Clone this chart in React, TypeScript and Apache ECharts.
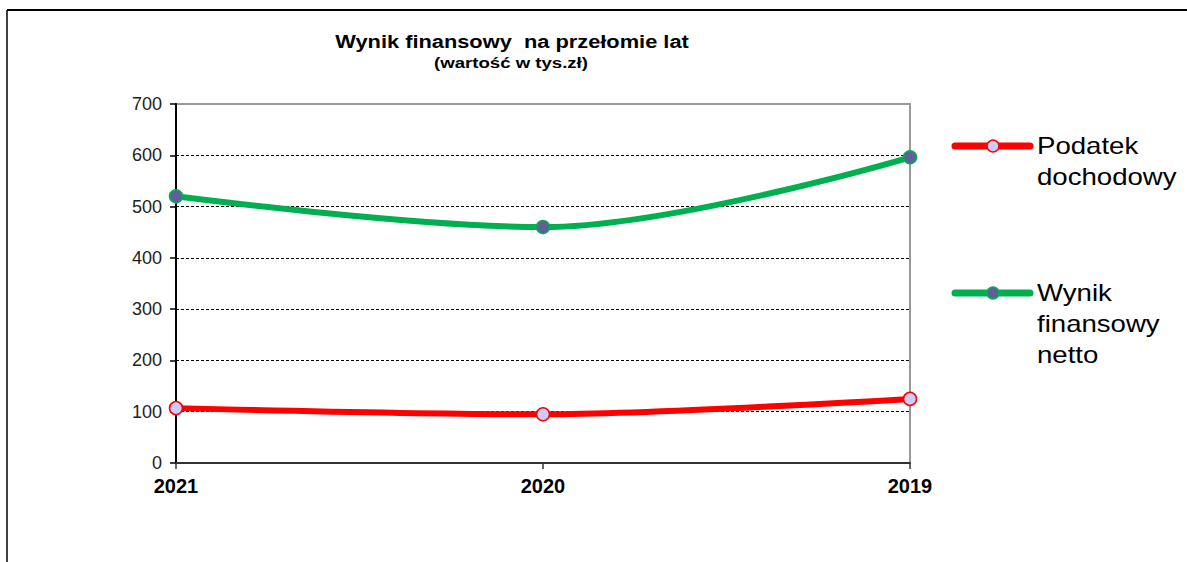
import React, { useEffect, useRef } from "react";
import * as echarts from "echarts";

const categories = ["2021", "2020", "2019"];
const seriesNames = ["Podatek\ndochodowy", "Wynik\nfinansowy\nnetto"];
const podatek = [107, 95, 125];
const wynik = [520, 460, 596];
const yTicks = { min: 0, max: 700, interval: 100 };
const titleText = "Wynik finansowy  na przełomie lat";
const subtitleText = "(wartość w tys.zł)";

const FONT = "'Liberation Sans', Arial, sans-serif";

export default function App() {
  const ref = useRef<HTMLDivElement>(null);
  useEffect(() => {
    document.body.style.margin = "0";
    const chart = echarts.init(ref.current!, null, { renderer: "svg" });
    const colors = ["#ff0000", "#00b050"];
    const fills = ["#ccccff", "#5f5f99"];
    const legendY = [146, 293];
    const legendGraphics: any[] = [];
    seriesNames.forEach((n, i) => {
      legendGraphics.push(
        {
          type: "line",
          shape: { x1: 955, y1: legendY[i], x2: 1030, y2: legendY[i] },
          style: { stroke: colors[i], lineWidth: 7, lineCap: "round" },
        },
        {
          type: "circle",
          shape: { cx: 993, cy: legendY[i], r: 6 },
          style: { fill: fills[i], stroke: colors[i], lineWidth: 1.5 },
        },
        {
          type: "text",
          x: 1037,
          y: legendY[i] - 16,
          scaleX: 1.2,
          style: {
            text: n,
            font: `23px ${FONT}`,
            fill: "#000",
            lineHeight: 31,
            textVerticalAlign: "top",
          },
        }
      );
    });

    chart.setOption({
      animation: false,
      textStyle: { fontFamily: FONT },
      grid: { left: 176, right: 277, top: 104, bottom: 99, show: true, borderColor: "#999", borderWidth: 2 },
      xAxis: {
        type: "category",
        data: categories,
        boundaryGap: false,
        axisLine: { lineStyle: { color: "#333", width: 2 } },
        axisTick: { show: true, length: 6, lineStyle: { color: "#333", width: 1.5 } },
        axisLabel: { color: "#000", fontWeight: "bold", fontSize: 20, fontFamily: FONT, margin: 13 },
        splitLine: { show: false },
      },
      yAxis: {
        type: "value",
        min: yTicks.min,
        max: yTicks.max,
        interval: yTicks.interval,
        axisLine: { show: true, lineStyle: { color: "#000", width: 2 } },
        axisTick: { show: true, length: 6, lineStyle: { color: "#000", width: 1.5 } },
        axisLabel: { color: "#222", fontSize: 18, fontFamily: FONT, margin: 14 },
        splitLine: {
          show: true,
          lineStyle: {
            color: ["#000", "#000", "#000", "#000", "#000", "#000", "#000", "transparent"],
            type: [3, 2],
            width: 1,
          },
        },
      },
      series: [
        {
          name: seriesNames[0],
          type: "line",
          data: podatek,
          smooth: 0.3,
          lineStyle: { color: colors[0], width: 6 },
          itemStyle: { color: fills[0], borderColor: colors[0], borderWidth: 1.5 },
          symbol: "circle",
          symbolSize: 13,
          z: 3,
        },
        {
          name: seriesNames[1],
          type: "line",
          data: wynik,
          smooth: 0.35,
          lineStyle: { color: colors[1], width: 6 },
          itemStyle: { color: fills[1], borderColor: colors[1], borderWidth: 1.5 },
          symbol: "circle",
          symbolSize: 13,
          z: 3,
        },
      ],
      graphic: [
        { type: "line", shape: { x1: 7, y1: 10, x2: 1187, y2: 10 }, style: { stroke: "#000", lineWidth: 2 } },
        { type: "line", shape: { x1: 7, y1: 10, x2: 7, y2: 562 }, style: { stroke: "#000", lineWidth: 1.5 } },
        {
          type: "text",
          x: 512,
          y: 42,
          scaleX: 1.18,
          style: { text: titleText, font: `bold 18.5px ${FONT}`, fill: "#000", textAlign: "center", textVerticalAlign: "middle" },
        },
        {
          type: "text",
          x: 511,
          y: 63,
          scaleX: 1.2,
          style: { text: subtitleText, font: `bold 15.5px ${FONT}`, fill: "#000", textAlign: "center", textVerticalAlign: "middle" },
        },
        ...legendGraphics,
      ],
    });
    return () => chart.dispose();
  }, []);
  return <div ref={ref} style={{ width: 1187, height: 562 }} />;
}
